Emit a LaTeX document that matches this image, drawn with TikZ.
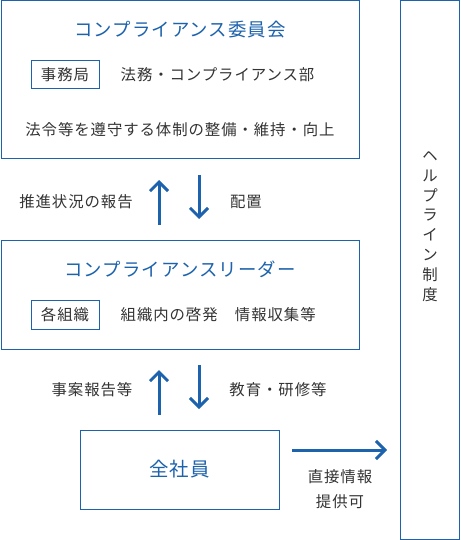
\documentclass[tikz,border=0pt]{standalone}
\usepackage{fontspec}
\setmainfont[LetterSpace=6]{Noto Sans CJK JP}
\usepackage{xcolor}
\usetikzlibrary{arrows.meta, positioning, calc}
\tikzset{
    frame/.style={rectangle, draw=mainblue, line width=1pt, inner sep=0pt},
    tag/.style={rectangle, draw=mainblue, line width=1pt, minimum width=68pt, minimum height=28pt, inner sep=0pt, text=textmain, font=\fontsize{15.4}{18}\selectfont},
    heading/.style={text=mainblue, font=\fontsize{18.4}{22}\selectfont, inner sep=0pt},
    body/.style={text=textmain, font=\fontsize{15.4}{18}\selectfont, inner sep=0pt},
    arrow/.style={line width=3pt, -{Straight Barb[length=9pt, width=18pt]}, color=mainblue}
}
\definecolor{mainblue}{RGB}{28,98,172}
\definecolor{textmain}{RGB}{51,51,51}

\begin{document}
\begin{tikzpicture}[x=1pt, y=-1pt]
    \useasboundingbox (0,0) rectangle (460,540);

    % Boxes
    \node (committee) [frame, minimum width=358pt, minimum height=158pt] at (180,80) {};
    \node (leader) [frame, minimum width=358pt, minimum height=109pt] at (180,294.5) {};
    \node (staff) [frame, heading, minimum width=199pt, minimum height=79pt, font=\fontsize{19.5}{22}\selectfont] at (179.5,469.5) {全社員};
    \node (helpline) [frame, minimum width=59pt, minimum height=538pt] at (429.5,270) {};

    % Committee contents
    \node (committeetitle) [heading] at (180,30) {コンプライアンス委員会};
    \node (office) [tag] at (65,75) {事務局};
    \node (legal) [body, right=21pt of office] {法務・コンプライアンス部};
    \node (duty) [body] at (180,130) {法令等を遵守する体制の整備・維持・向上};

    % Leader contents
    \node (leadertitle) [heading] at (180,269) {コンプライアンスリーダー};
    \node (division) [tag, minimum height=29pt] at (65,314.5) {各組織};
    \node (activity) [body, right=21pt of division] {組織内の啓発　情報収集等};

    % Helpline text (vertical)
    \node (helptext) [body, align=center, font=\fontsize{15.4}{19.9}\selectfont] at (430,226.5) {ヘ\\ル\\プ\\ラ\\イ\\ン\\制\\度};

    % Arrow ends
    \coordinate (upa) at (159,225);
    \coordinate (upb) at (159,180);
    \coordinate (downa) at (199,175);
    \coordinate (downb) at (199,219);
    \coordinate (upc) at (159,415);
    \coordinate (upd) at (159,370);
    \coordinate (downc) at (199,365);
    \coordinate (downd) at (199,409);
    \coordinate (directa) at (292,450);
    \coordinate (directb) at (387,450);

    % Labels
    \node (progress) [body] at (76,202) {推進状況の報告};
    \node (assign) [body] at (246,202) {配置};
    \node (incident) [body] at (92,390) {事案報告等};
    \node (training) [body] at (278,390) {教育・研修等};
    \node (direct) [body, align=center, font=\fontsize{15.4}{25}\selectfont] at (340,489.5) {直接情報\\提供可};

    % Arrows
    \draw [arrow] (upa) -- (upb);
    \draw [arrow] (downa) -- (downb);
    \draw [arrow] (upc) -- (upd);
    \draw [arrow] (downc) -- (downd);
    \draw [arrow] (directa) -- (directb);
\end{tikzpicture}
\end{document}
